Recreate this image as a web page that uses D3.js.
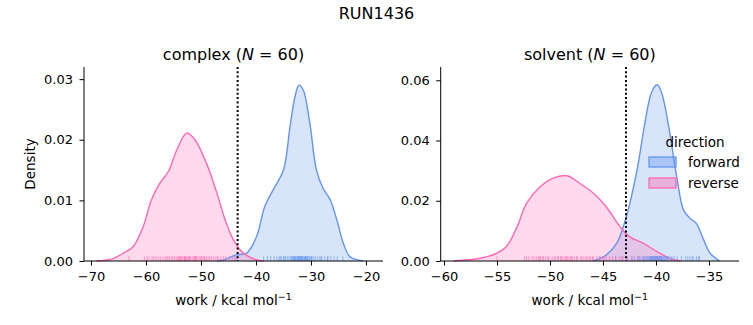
<!DOCTYPE html>
<html><head><meta charset="utf-8">
<script src="https://cdn.jsdelivr.net/npm/d3@7"></script>
<style>body{margin:0;background:#fff}svg{font-family:"DejaVu Sans",sans-serif}</style>
</head><body>
<svg id="c" width="753" height="325"></svg>
<script>
const suptitle = "RUN1436";
const panelNames = ["complex", "solvent"];
const nValues = [60, 60];
const cutoffs = [-43.33, -42.83];
const xTicksComplex = [-70, -60, -50, -40, -30, -20];
const yTicksComplex = [0, 0.01, 0.02, 0.03];
const xTicksSolvent = [-60, -55, -50, -45, -40, -35];
const yTicksSolvent = [0, 0.02, 0.04, 0.06];
const directions = ["forward", "reverse"];
const colors = {forward: "#6495ED", reverse: "#FF69B4"};

// KDE curves: [work, density]
const complexReverseKde = [[-69,0],[-66,0.0004],[-64.1,0.0013],[-62.3,0.0024],[-60.5,0.0057],[-59,0.0101],[-57.5,0.0128],[-55.9,0.0148],[-54.4,0.0183],[-52.6,0.0211],[-51.1,0.0200],[-49,0.0161],[-47.1,0.0112],[-45.6,0.0068],[-44.1,0.0035],[-42.3,0.0013],[-39.9,0.0002],[-38.6,0]];
const complexForwardKde = [[-47,0],[-45.5,0.0003],[-43.6,0.0010],[-41.7,0.0013],[-39.9,0.0040],[-38.4,0.0090],[-36.9,0.0117],[-35,0.0150],[-33.8,0.0222],[-32.9,0.0271],[-32.2,0.0290],[-31.4,0.0282],[-30.2,0.0227],[-29,0.0150],[-27.8,0.0120],[-26.5,0.0101],[-25.3,0.0068],[-24.1,0.0029],[-22.9,0.0007],[-20.5,0]];
const solventReverseKde = [[-59.1,0],[-56.6,0.0009],[-55,0.0026],[-54.1,0.0048],[-53.1,0.0114],[-52.2,0.0192],[-50.9,0.0247],[-49.7,0.0275],[-48.4,0.0283],[-47.2,0.0258],[-45.9,0.0225],[-44.7,0.0180],[-43.4,0.0114],[-42.5,0.0081],[-41.2,0.0059],[-39.9,0.0031],[-38.7,0.0009],[-37.7,0]];
const solventForwardKde = [[-45.9,0],[-44.7,0.0020],[-43.7,0.0059],[-42.8,0.0147],[-41.8,0.0300],[-41,0.0468],[-40.4,0.0562],[-39.9,0.0585],[-39.5,0.0562],[-38.8,0.0446],[-38,0.0269],[-37.4,0.0169],[-36.8,0.0142],[-36.2,0.0125],[-35.5,0.0070],[-34.9,0.0026],[-34,0]];

// rug samples
const complexReverseRug = [-63.1,-60.3,-59.8,-59.5,-58.9,-58.2,-57.8,-57.4,-56.9,-56.5,-56.0,-55.7,-55.3,-54.8,-54.5,-54.2,-53.9,-53.6,-53.4,-53.1,-52.9,-52.6,-52.4,-52.1,-51.9,-51.6,-51.3,-51.0,-50.8,-50.5,-50.2,-49.9,-49.6,-49.3,-49.0,-48.7,-48.4,-48.1,-47.7,-47.3,-46.9,-46.4,-45.9,-45.5,-44.8,-43.9,-54.1,-53.0,-52.2,-50.9,-55.1,-56.2,-58.6,-47.0,-51.2,-52.8,-53.7,-49.4,-50.0,-44.3];
const complexForwardRug = [-43.6,-38.6,-37.9,-37.3,-36.7,-36.2,-35.8,-35.4,-35.0,-34.6,-34.3,-34.0,-33.7,-33.4,-33.2,-33.0,-32.8,-32.6,-32.4,-32.2,-32.0,-31.8,-31.6,-31.4,-31.2,-31.0,-30.8,-30.6,-30.4,-30.1,-29.8,-29.5,-29.2,-28.8,-28.4,-28.0,-27.5,-27.0,-26.4,-25.8,-25.2,-24.2,-32.5,-31.9,-33.1,-30.9,-32.1,-31.5,-29.9,-34.8,-33.5,-30.3,-31.1,-32.9,-28.2,-26.9,-35.6,-31.7,-32.3,-30.7];
const solventReverseRug = [-55.0,-52.4,-52.0,-51.7,-51.3,-51.0,-50.7,-50.4,-50.1,-49.8,-49.5,-49.2,-48.9,-48.6,-48.3,-48.0,-47.7,-47.4,-47.1,-46.8,-46.5,-46.2,-45.9,-45.6,-45.3,-45.0,-44.7,-44.4,-44.1,-43.8,-43.5,-43.1,-42.7,-42.2,-41.7,-41.2,-40.5,-39.8,-51.5,-50.2,-49.0,-48.1,-47.9,-49.6,-48.8,-47.0,-46.0,-50.6,-44.9,-48.4,-49.3,-46.6,-51.1,-45.3,-47.5,-48.5,-43.3,-52.2,-50.9,-46.3];
const solventForwardRug = [-43.8,-43.2,-42.7,-42.3,-42.0,-41.7,-41.5,-41.3,-41.1,-40.9,-40.8,-40.6,-40.5,-40.4,-40.3,-40.2,-40.1,-40.0,-39.9,-39.8,-39.7,-39.6,-39.5,-39.4,-39.3,-39.2,-39.0,-38.8,-38.6,-38.3,-38.0,-37.6,-37.2,-36.8,-36.5,-36.2,-35.9,-40.7,-40.0,-39.85,-40.15,-39.55,-41.0,-39.1,-40.45,-41.2,-38.9,-39.75,-40.25,-40.05,-39.95,-36.6,-37.0,-41.6,-39.45,-40.35,-38.5,-40.55,-39.65,-36.0];

const svg = d3.select("#c");
svg.append("text").attr("x", 376.5).attr("y", 18.5).attr("text-anchor","middle")
  .attr("font-size", 16).text(suptitle);

const panels = [
  {name: panelNames[0], n: nValues[0], cut: cutoffs[0], left: 84, right: 383, xdom: [-71.27, -16.9], ydom: [0, 0.0320],
   xt: xTicksComplex, yt: yTicksComplex, fmt: d3.format(".2f"),
   kde: {forward: complexForwardKde, reverse: complexReverseKde}, rug: {forward: complexForwardRug, reverse: complexReverseRug}, ylabel: true},
  {name: panelNames[1], n: nValues[1], cut: cutoffs[1], left: 440.7, right: 739, xdom: [-60.31, -32.17], ydom: [0, 0.0644],
   xt: xTicksSolvent, yt: yTicksSolvent, fmt: d3.format(".2f"),
   kde: {forward: solventForwardKde, reverse: solventReverseKde}, rug: {forward: solventForwardRug, reverse: solventReverseRug}, ylabel: false, legend: true}
];
const axTop = 67, axBottom = 261;
const minus = s => s.replace("-", "\u2212");

panels.forEach(p => {
  const x = d3.scaleLinear().domain(p.xdom).range([p.left, p.right]);
  const y = d3.scaleLinear().domain(p.ydom).range([axBottom, axTop]);
  const g = svg.append("g");
  const curve = d3.curveCatmullRom.alpha(0.5);
  const area = d3.area().x(d => x(d[0])).y0(y(0)).y1(d => Math.min(y(d[1]), axBottom)).curve(curve);
  const line = d3.line().x(d => x(d[0])).y(d => y(d[1])).curve(curve);
  ["forward","reverse"].forEach(dir => {
    g.append("path").datum(p.kde[dir]).attr("d", area).attr("fill", colors[dir]).attr("fill-opacity", 0.25);
  });
  ["forward","reverse"].forEach(dir => {
    g.append("path").datum(p.kde[dir]).attr("d", line).attr("fill","none").attr("stroke", colors[dir]).attr("stroke-width", 1.4);
  });
  const rugH = (axBottom - axTop) * 0.025;
  ["forward","reverse"].forEach(dir => {
    g.selectAll(null).data(p.rug[dir]).join("line")
      .attr("x1", d => x(d)).attr("x2", d => x(d))
      .attr("y1", axBottom).attr("y2", axBottom - rugH)
      .attr("stroke", colors[dir]).attr("stroke-width", 1).attr("stroke-opacity", 0.6);
  });
  g.append("line").attr("x1", x(p.cut)).attr("x2", x(p.cut)).attr("y1", axTop).attr("y2", axBottom)
    .attr("stroke","#000").attr("stroke-width", 2).attr("stroke-dasharray","2,2.3");

  const xa = g.append("g").attr("transform", `translate(0,${axBottom})`)
    .call(d3.axisBottom(x).tickValues(p.xt).tickSize(4.5).tickPadding(6).tickFormat(d => minus(String(d))));
  xa.select(".domain").attr("d", `M${p.left},0H${p.right}`);
  const ya = g.append("g").attr("transform", `translate(${p.left},0)`)
    .call(d3.axisLeft(y).tickValues(p.yt).tickSize(4.5).tickPadding(6.5).tickFormat(p.fmt));
  ya.select(".domain").attr("d", `M0,${axTop}V${axBottom}`);
  [xa, ya].forEach(a => {
    a.selectAll("text").attr("font-size", 13).attr("font-family","DejaVu Sans").attr("fill","#000");
    a.selectAll("line,path").attr("stroke","#000").attr("stroke-width", 1);
  });

  const cx = (p.left + p.right) / 2;
  const t = g.append("text").attr("x", cx).attr("y", 60).attr("text-anchor","middle").attr("font-size", 16);
  t.append("tspan").text(p.name + " (");
  t.append("tspan").attr("font-style","italic").text("N");
  t.append("tspan").text(" = " + p.n + ")");

  const xl = g.append("text").attr("x", cx).attr("y", 305).attr("text-anchor","middle").attr("font-size", 13.5);
  xl.append("tspan").text("work / kcal mol");
  xl.append("tspan").attr("font-size", 9.5).attr("dy", -5).text("\u22121");

  if (p.ylabel) {
    g.append("text").attr("transform", `translate(35,${(axTop+axBottom)/2}) rotate(-90)`)
      .attr("text-anchor","middle").attr("font-size", 13.5).text("Density");
  }
  if (p.legend) {
    const lg = g.append("g");
    lg.append("text").attr("x", 695).attr("y", 147).attr("text-anchor","middle").attr("font-size", 13.5).text("direction");
    directions.forEach((dir, i) => {
      const yy = 157 + i * 21;
      lg.append("rect").attr("x", 649).attr("y", yy).attr("width", 27).attr("height", 10)
        .attr("fill", colors[dir]).attr("fill-opacity", 0.4).attr("stroke", colors[dir]).attr("stroke-width", 1.3);
      lg.append("text").attr("x", 688).attr("y", yy + 9.5).attr("font-size", 13.5).text(dir);
    });
  }
});
</script>
</body></html>
